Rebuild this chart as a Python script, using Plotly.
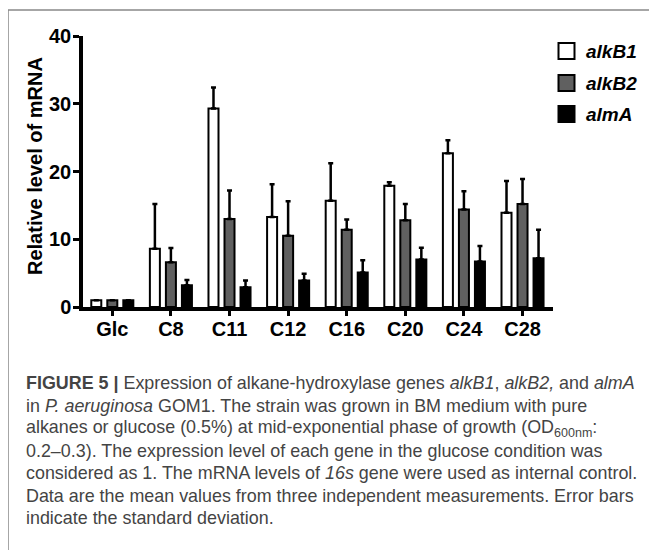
import plotly.graph_objects as go

# ---------------- data ----------------
categories = ["Glc", "C8", "C11", "C12", "C16", "C20", "C24", "C28"]
alkB1 = [1, 8.6, 29.3, 13.3, 15.7, 17.9, 22.7, 13.9]
alkB1_sd = [0, 6.6, 3.1, 4.8, 5.5, 0.5, 1.9, 4.7]
alkB2 = [1, 6.6, 13.0, 10.5, 11.4, 12.8, 14.4, 15.2]
alkB2_sd = [0, 2.1, 4.2, 5.1, 1.5, 2.4, 2.7, 3.7]
almA = [1, 3.2, 2.9, 3.9, 5.1, 7.0, 6.7, 7.2]
almA_sd = [0, 0.8, 1.0, 1.0, 1.8, 1.75, 2.3, 4.2]
series_names = ["alkB1", "alkB2", "almA"]
series_colors = ["#ffffff", "#606060", "#000000"]
y_ticks = [0, 10, 20, 30, 40]

caption_lines = [
    "<b>FIGURE 5 |</b> Expression of alkane-hydroxylase genes <i>alkB1</i>, <i>alkB2,</i> and <i>almA</i>",
    "in <i>P. aeruginosa</i> GOM1. The strain was grown in BM medium with pure",
    "alkanes or glucose (0.5%) at mid-exponential phase of growth (OD<sub>600nm</sub>:",
    "0.2–0.3). The expression level of each gene in the glucose condition was",
    "considered as 1. The mRNA levels of <i>16s</i> gene were used as internal control.",
    "Data are the mean values from three independent measurements. Error bars",
    "indicate the standard deviation.",
]

# ---------------- layout geometry (page pixels) ----------------
PAGE_W, PAGE_H = 657, 550
OFF = 8                      # default body margin of the html page
W, H = PAGE_W - OFF, PAGE_H - OFF
L, R, T, B = 83, 553, 36, 307  # plot area in page pixels
FONT = "Liberation Sans, Arial, Helvetica, sans-serif"


def px_x(x):
    return (x - L) / (R - L)


def px_y(y):
    return (B - y) / (B - T)


fig = go.Figure()
for name, vals, sd, col in zip(series_names, [alkB1, alkB2, almA],
                               [alkB1_sd, alkB2_sd, almA_sd], series_colors):
    fig.add_trace(go.Bar(
        x=categories, y=vals, name=name,
        marker=dict(color=col, line=dict(color="black", width=2)),
        error_y=dict(type="data", symmetric=False, array=sd,
                     arrayminus=[0] * len(sd), color="black",
                     thickness=2.5, width=2.5),
        showlegend=False,
    ))

fig.update_layout(
    width=W, height=H,
    margin=dict(l=L - OFF, r=PAGE_W - R, t=T - OFF, b=PAGE_H - B, pad=0),
    paper_bgcolor="white", plot_bgcolor="white",
    barmode="group", bargap=0.18, bargroupgap=0.375,
    font=dict(family=FONT, color="black"),
    xaxis=dict(range=[-0.5, 7.52], showline=True, linecolor="black", linewidth=3.5,
               ticks="outside", ticklen=5, tickwidth=2.5, tickcolor="black",
               ticklabelstandoff=-4,
               tickfont=dict(size=20, family=FONT, color="black", weight="bold"),
               showgrid=False, zeroline=False),
    yaxis=dict(range=[0, 40], tickvals=y_ticks, showline=True, linecolor="black",
               linewidth=3.5, ticks="outside", ticklen=6, tickwidth=3,
               tickcolor="black", ticklabelstandoff=-2,
               tickfont=dict(size=20, family=FONT, color="black", weight="bold"),
               showgrid=False, zeroline=False),
)

# y-axis title
fig.add_annotation(text="<b>Relative level of mRNA</b>", xref="paper", yref="paper",
                   x=px_x(35), y=px_y(166), textangle=-90, showarrow=False,
                   xanchor="center", yanchor="middle",
                   font=dict(size=20, family=FONT, color="black"))

# legend (manual)
legend_rows = [51, 83, 114]
for name, col, yc in zip(series_names, series_colors, legend_rows):
    fig.add_shape(type="rect", xref="paper", yref="paper",
                  x0=px_x(558.5), x1=px_x(574.5), y0=px_y(yc + 8), y1=px_y(yc - 8),
                  fillcolor=col, line=dict(color="black", width=2))
    fig.add_annotation(text="<b><i>%s</i></b>" % name, xref="paper", yref="paper",
                       x=px_x(584), y=px_y(yc), xanchor="left", yanchor="middle",
                       showarrow=False, font=dict(size=19, family=FONT, color="black"))

# frame lines
fig.add_shape(type="line", xref="paper", yref="paper", x0=px_x(8), x1=px_x(PAGE_W + 5),
              y0=px_y(10), y1=px_y(10), line=dict(color="#888888", width=1.5))
fig.add_shape(type="line", xref="paper", yref="paper", x0=px_x(8), x1=px_x(8),
              y0=px_y(10), y1=px_y(PAGE_H + 5), line=dict(color="#888888", width=1.5))

# caption
for i, line in enumerate(caption_lines):
    baseline = 389 + i * 22.5
    fig.add_annotation(text=line, xref="paper", yref="paper",
                       x=px_x(24), y=px_y(baseline - 6), xanchor="left", yanchor="middle",
                       showarrow=False, align="left",
                       font=dict(size=17.9, family=FONT, color="#444444"))

fig.write_html("out.html")
